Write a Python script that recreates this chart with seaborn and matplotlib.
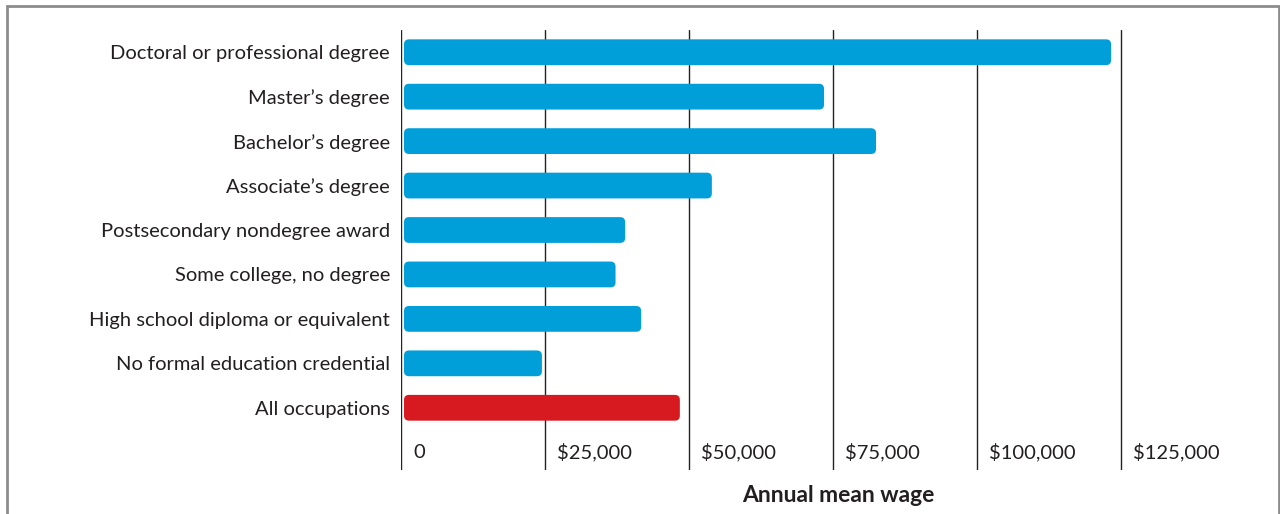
#!/usr/bin/env python3
"""Annual mean wage by typical entry-level education, horizontal bar chart."""
import pandas as pd
import matplotlib.pyplot as plt
import matplotlib.transforms as mtransforms
from matplotlib.patches import FancyBboxPatch, Rectangle
import seaborn as sns

categories = [
    'Doctoral or professional degree',
    'Master\u2019s degree',
    'Bachelor\u2019s degree',
    'Associate\u2019s degree',
    'Postsecondary nondegree award',
    'Some college, no degree',
    'High school diploma or equivalent',
    'No formal education credential',
    'All occupations',
]
wages = [123350, 73490, 82520, 54000, 38940, 37270, 41720, 24480, 48440]
groups = ['edu'] * 8 + ['all']
tick_values = [0, 25000, 50000, 75000, 100000, 125000]
tick_labels = ['0', '$25,000', '$50,000', '$75,000', '$100,000', '$125,000']

BLUE = '#009FDA'
RED = '#D71920'
TEXT = '#231F20'

df = pd.DataFrame({'category': categories, 'wage': wages, 'group': groups})

sns.set_style('white')
plt.rcParams['font.family'] = ['Lato', 'DejaVu Sans']

fig = plt.figure(figsize=(12.8, 5.14), dpi=100)
ax = fig.add_axes([401 / 1280, 1 - 470 / 514, 875 / 1280, 440 / 514])

sns.barplot(data=df, x='wage', y='category', hue='group',
            palette={'edu': BLUE, 'all': RED}, dodge=False, saturation=1,
            width=0.58, legend=False, ax=ax, zorder=3)

ax.set_xlim(0, 152000)
ax.set_ylim(9.4, -0.5)

# swap square bars for rounded ones
px_x = 25000 / 144
px_y = 1 / 44.5
gap = 3 * px_x
for p in list(ax.patches):
    x0, y0, w, h = p.get_x(), p.get_y(), p.get_width(), p.get_height()
    rounded = FancyBboxPatch((x0 + gap, y0), w - gap, h,
                             boxstyle=f'round,pad=0,rounding_size={5 * px_x}',
                             mutation_aspect=px_y / px_x,
                             facecolor=p.get_facecolor(), edgecolor='none',
                             zorder=3)
    p.remove()
    ax.add_patch(rounded)

for v in tick_values:
    ax.axvline(v, color='#222222', lw=1.0, zorder=1)

# x tick labels sit inside the axes, just right of each gridline
offset = mtransforms.offset_copy(ax.transData, fig=fig, x=12, y=0, units='dots')
for v, lab in zip(tick_values, tick_labels):
    ax.text(v, 9.0, lab, transform=offset, ha='left', va='center',
            fontsize=14.5, color=TEXT)

ax.set_xticks([])
ax.set_xlabel('')
ax.set_ylabel('')
ax.tick_params(axis='y', length=0, pad=8, labelsize=14.5, labelcolor=TEXT)
for s in ax.spines.values():
    s.set_visible(False)

fig.text(838 / 1280, 1 - 496 / 514, 'Annual mean wage', ha='center', va='center',
         fontsize=16.5, fontweight='bold', color=TEXT)

fig.patches.append(Rectangle((7 / 1280, -0.1), 1272 / 1280, 1.1 - 6 / 514,
                             transform=fig.transFigure, fill=False,
                             edgecolor='#8C8C8C', lw=2))

fig.savefig('out.png', dpi=100)
